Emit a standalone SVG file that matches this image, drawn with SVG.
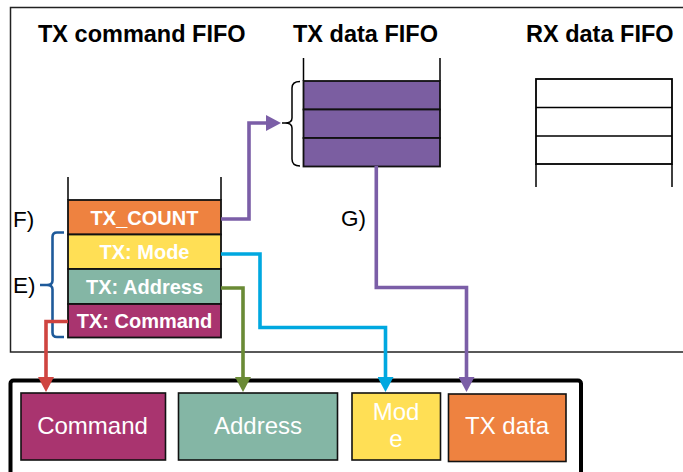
<svg xmlns="http://www.w3.org/2000/svg" width="683" height="472" viewBox="0 0 683 472">
<style>
  .title { font-family: "Liberation Sans", Arial, sans-serif; font-weight: bold; font-size: 23.5px; fill: #000; }
  .lbl { font-family: "Liberation Sans", Arial, sans-serif; font-size: 22.5px; fill: #000; }
  .cell { font-family: "Liberation Sans", Arial, sans-serif; font-weight: bold; font-size: 20px; fill: #fff; text-anchor: middle; }
  .box { font-family: "Liberation Sans", Arial, sans-serif; font-size: 24px; fill: #fff; text-anchor: middle; }
  .thin { fill: none; stroke: #000; stroke-width: 1.5; }
  .cellr { stroke: #111; stroke-width: 1.8; }
  .conn { fill: none; stroke-width: 3.6; stroke-linejoin: miter; }
</style>
<defs>
  <marker id="aPurple" viewBox="0 0 16 16" refX="0" refY="8" markerWidth="16" markerHeight="16" markerUnits="userSpaceOnUse" orient="auto"><path d="M0,0 L15,8 L0,16 z" fill="#7B5EA7"/></marker>
  <marker id="aRed" viewBox="0 0 16 16" refX="0" refY="8" markerWidth="16" markerHeight="16" markerUnits="userSpaceOnUse" orient="auto"><path d="M0,0 L15,8 L0,16 z" fill="#CF4440"/></marker>
  <marker id="aGreen" viewBox="0 0 16 16" refX="0" refY="8" markerWidth="16" markerHeight="16" markerUnits="userSpaceOnUse" orient="auto"><path d="M0,0 L15,8 L0,16 z" fill="#6A8A35"/></marker>
  <marker id="aBlue" viewBox="0 0 16 16" refX="0" refY="8" markerWidth="16" markerHeight="16" markerUnits="userSpaceOnUse" orient="auto"><path d="M0,0 L15,8 L0,16 z" fill="#00A8E0"/></marker>
</defs>

<!-- outer frames -->
<rect x="10.5" y="7.5" width="700" height="344.5" fill="none" stroke="#222" stroke-width="1.5"/>
<rect x="10.5" y="380.5" width="570.5" height="120" rx="3" fill="none" stroke="#000" stroke-width="4"/>

<!-- titles -->
<text class="title" x="38" y="42">TX command FIFO</text>
<text class="title" x="293" y="42">TX data FIFO</text>
<text class="title" x="526" y="42">RX data FIFO</text>

<!-- TX data FIFO -->
<g id="txdata-fifo">
  <path class="thin" d="M303.5,58 V81 M440,58 V81"/>
  <rect class="cellr" x="303.5" y="81" width="136.5" height="28.5" fill="#7B5EA1"/>
  <rect class="cellr" x="303.5" y="109.5" width="136.5" height="28.5" fill="#7B5EA1"/>
  <rect class="cellr" x="303.5" y="138" width="136.5" height="28.5" fill="#7B5EA1"/>
  <path class="thin" d="M300,81.5 Q292,81.5 292,88 L292,118 Q292,123 285,123 L282,123 M285,123 Q292,123 292,128 L292,159 Q292,166 300,166"/>
</g>

<!-- RX data FIFO -->
<g id="rxdata-fifo">
  <rect x="536" y="79" width="136" height="85" fill="#fff" stroke="#000" stroke-width="1.8"/>
  <path class="thin" d="M536,107.5 H672 M536,136 H672 M536,164 V187 M672,164 V187" stroke-width="1.8"/>
</g>

<!-- TX command FIFO -->
<g id="txcmd-fifo">
  <path class="thin" d="M68,177 V200 M221,177 V200"/>
</g>
<g id="tx-count">
  <rect class="cellr" x="68" y="200" width="153" height="34.5" fill="#EE8240"/>
  <text class="cell" x="144.5" y="224.5">TX_COUNT</text>
</g>
<g id="tx-mode">
  <rect class="cellr" x="68" y="234.5" width="153" height="34.5" fill="#FFDF55"/>
  <text class="cell" x="144.5" y="259">TX: Mode</text>
</g>
<g id="tx-address">
  <rect class="cellr" x="68" y="269" width="153" height="35" fill="#84B6A5"/>
  <text class="cell" x="144.5" y="293.5">TX: Address</text>
</g>
<g id="tx-command">
  <rect class="cellr" x="68" y="304" width="153" height="33.5" fill="#A9346F"/>
  <text class="cell" x="144.5" y="328">TX: Command</text>
</g>

<!-- labels -->
<text class="lbl" x="13" y="227">F)</text>
<text class="lbl" x="13" y="293">E)</text>
<text class="lbl" x="341" y="226">G)</text>
<path d="M64,232.5 L57,232.5 Q52.5,232.5 52.5,237 L52.5,280.5 Q52.5,285 47,285 L40,285 M47,285 Q52.5,285 52.5,289.5 L52.5,332.5 Q52.5,337 57,337 L64,337" fill="none" stroke="#1E5A9A" stroke-width="2.6"/>

<!-- connectors -->
<g id="connectors">
  <path class="conn" stroke="#7B5EA7" d="M221,219 H249 V123 H266" marker-end="url(#aPurple)"/>
  <path class="conn" stroke="#7B5EA7" d="M376.3,166 V287.5 H466.5 V377" marker-end="url(#aPurple)"/>
  <path class="conn" stroke="#00A8E0" d="M221,254 H260 V327.5 H385.5 V377" marker-end="url(#aBlue)"/>
  <path class="conn" stroke="#6A8A35" d="M221,288 H243 V377" marker-end="url(#aGreen)"/>
  <path class="conn" stroke="#CF4440" d="M68,321.5 H46 V377" marker-end="url(#aRed)"/>
</g>

<!-- bottom boxes -->
<g id="command">
  <rect x="21" y="393" width="144.5" height="67" fill="#A9346F" stroke="#111" stroke-width="1.6"/>
  <text class="box" x="92.5" y="434">Command</text>
</g>
<g id="address">
  <rect x="178.5" y="393" width="159" height="67" fill="#84B6A5" stroke="#111" stroke-width="1.6"/>
  <text class="box" x="258" y="433.5">Address</text>
</g>
<g id="mode">
  <rect x="352" y="393" width="88.5" height="67" fill="#FFDF55" stroke="#111" stroke-width="1.6"/>
  <text class="box" x="396" y="419.5">Mod</text>
  <text class="box" x="396" y="447">e</text>
</g>
<g id="txdata">
  <rect x="448.5" y="394" width="117.5" height="67.5" fill="#EE8240" stroke="#111" stroke-width="1.6"/>
  <text class="box" x="507" y="434">TX data</text>
</g>
</svg>
